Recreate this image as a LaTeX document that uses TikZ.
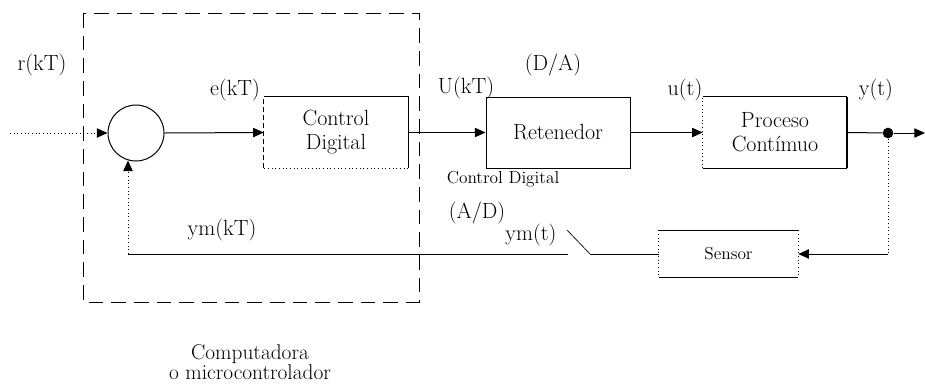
\documentclass[tikz,border=0pt]{standalone}
\usepackage{fontspec}
\usetikzlibrary{arrows.meta}
\begin{document}
\begin{tikzpicture}[x=0.75pt,y=-0.75pt,
  every node/.style={font=\fontsize{16.5}{18}\selectfont, inner sep=0pt},
  blk/.style={minimum width=108pt, minimum height=53.25pt, align=center},
  wire/.style={line width=0.75pt},
  arr/.style={wire, -{Triangle[length=8pt,width=7pt]}},
  small/.style={font=\fontsize{13}{15}\selectfont},
  boundary/.style={line width=0.75pt, dash pattern=on 11pt off 6pt}]
\useasboundingbox (0,0) rectangle (925,383);

% computer / microcontroller boundary
\draw[boundary] (83,13) rectangle (419,302);

% blocks
\node[circle, draw, wire, minimum size=42pt] (sum) at (136,133) {};
\node[blk] (ctrl) at (336,132.5) {Control\\Digital};
\node[blk, draw, wire] (ret) at (558,132.5) {Retenedor};
\node[blk] (proc) at (775,132.5) {Proceso\\Contímuo};
\node[small, minimum width=104.25pt, minimum height=35.25pt] (sens) at (728.5,254) {Sensor};
\node[circle, fill, minimum size=8pt] (dot) at (888,133) {};

% block outlines with mixed line styles
\draw[wire] (ctrl.north west) -- (ctrl.north east) -- (ctrl.south east);
\draw[wire, dotted] (ctrl.south east) -- (ctrl.south west);
\draw[wire, dash pattern=on 4pt off 2pt] (ctrl.south west) -- (ctrl.north west);
\draw[wire] (proc.north west) -- (proc.north east);
\draw[line width=1.4pt] (proc.north east) -- (proc.south east);
\draw[wire] (proc.south east) -- (proc.south west);
\draw[wire, dotted] (proc.south west) -- (proc.north west);
\draw[wire] (sens.north west) -- (sens.north east);
\draw[wire] (sens.south west) -- (sens.south east);
\draw[wire, dotted] (sens.north west) -- (sens.south west);
\draw[wire, dotted] (sens.north east) -- (sens.south east);

% forward path
\coordinate (in) at (10,133);
\coordinate (out) at (925,133);
\draw[arr, dotted] (in) -- (sum.west);
\draw[arr] (sum.east) -- (ctrl.west);
\draw[arr] (ctrl.east) -- (ret.west);
\draw[arr] (ret.east) -- (proc.west);
\draw[wire] (proc.east) -- (dot);
\draw[arr] (dot) -- (out);

% feedback path with A/D sampling switch
\coordinate (fbR) at (888,254);
\coordinate (swA) at (590,254);
\coordinate (swB) at (567,230);
\coordinate (swC) at (568,254);
\coordinate (fbL) at (128,254);
\draw[wire, dotted] (dot) -- (fbR);
\draw[arr] (fbR) -- (sens.east);
\draw[wire] (sens.west) -- (swA);
\draw[line width=0.5pt] (swA) -- (swB);
\draw[wire] (swC) -- (fbL);
\draw[arr, dotted] (fbL) -- (fbL |- sum.-106);

% signal labels
\node (lr) at (42,65) {r(kT)};
\node (le) at (235,90) {e(kT)};
\node (lU) at (466,88) {U(kT)};
\node (lda) at (553,65) {(D/A)};
\node (lu) at (685,90) {u(t)};
\node (ly) at (876,90) {y(t)};
\node[small] (lcd) at (503,179) {Control Digital};
\node (lymk) at (222,230) {ym(kT)};
\node (lad) at (477,213) {(A/D)};
\node (lymt) at (531,235) {ym(t)};
\node[align=center, font=\fontsize{16}{13}\selectfont] (comp) at (250,362) {Computadora\\o microcontrolador};
\end{tikzpicture}
\end{document}
